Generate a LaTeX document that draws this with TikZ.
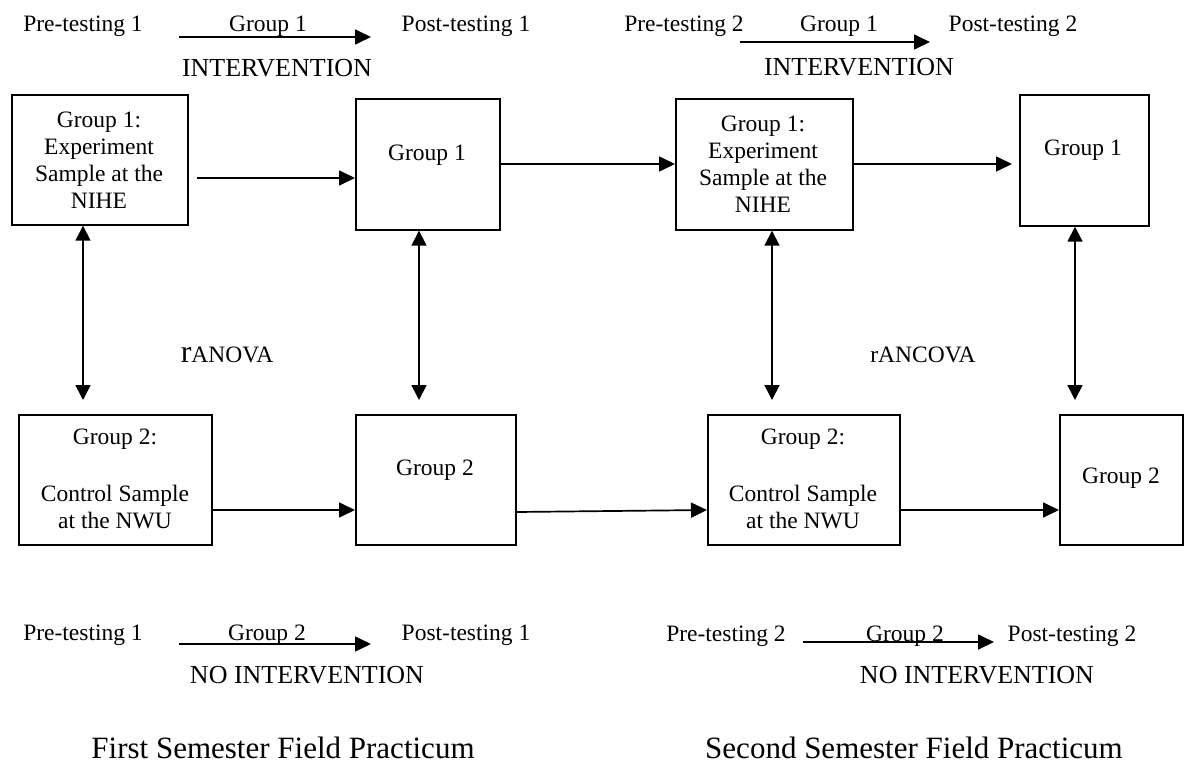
\documentclass[tikz,border=0pt]{standalone}
\usepackage{fontspec}
\setmainfont{Liberation Serif}
\usetikzlibrary{arrows.meta,calc}
\newcommand\mfont{\fontsize{23.5}{27}\selectfont}
\newcommand\capfont{\fontsize{26}{30}\selectfont}
\newcommand\titfont{\fontsize{31}{36}\selectfont}
\begin{document}
\begin{tikzpicture}[x=1pt,y=-1pt,
  box/.style={draw,line width=1.7pt,inner sep=0pt,anchor=north west},
  txt/.style={inner sep=0pt,font=\mfont},
  captxt/.style={inner sep=0pt,font=\capfont,anchor=base},
  tit/.style={inner sep=0pt,font=\titfont,anchor=base},
  arr/.style={line width=1.7pt,-{Triangle[length=16pt,width=15pt]}},
  darr/.style={line width=1.7pt,{Triangle[length=15pt,width=15pt]}-{Triangle[length=15pt,width=15pt]}}]
\useasboundingbox (0,0) rectangle (1185,776);

% boxes
\node[box,minimum width=176pt,minimum height=130pt] (A) at (11,94) {};
\node[box,minimum width=144pt,minimum height=131pt] (B) at (355,98) {};
\node[box,minimum width=177pt,minimum height=131pt] (C) at (675,98) {};
\node[box,minimum width=129pt,minimum height=131pt] (D) at (1019,94) {};
\node[box,minimum width=193pt,minimum height=130pt] (E) at (18,414) {};
\node[box,minimum width=160pt,minimum height=130pt] (F) at (355,414) {};
\node[box,minimum width=192pt,minimum height=130pt] (G) at (707,414) {};
\node[box,minimum width=123pt,minimum height=130pt] (H) at (1059,414) {};

% box texts
\node[txt,anchor=north,align=center] (At) at (99,112) {Group 1:\\Experiment\\Sample at the\\NIHE};
\node[txt,anchor=base] (Bt) at (427,160) {Group 1};
\node[txt,anchor=north,align=center] (Ct) at (763,116) {Group 1:\\Experiment\\Sample at the\\NIHE};
\node[txt,anchor=base] (Dt) at (1083,155) {Group 1};
\node[txt,anchor=north,align=center] (Et) at (115,429) {Group 2:\\[30pt]Control Sample\\at the NWU};
\node[txt,anchor=base] (Ft) at (435,475) {Group 2};
\node[txt,anchor=north,align=center] (Gt) at (803,429) {Group 2:\\[30pt]Control Sample\\at the NWU};
\node[txt,anchor=base] (Ht) at (1121,483) {Group 2};

% horizontal connectors
\coordinate (yA) at (0,178);
\coordinate (yB) at (0,164);
\coordinate (yE) at (0,510);
\coordinate (yF) at (0,512);
\draw[arr] ($(A.east |- yA)+(8,0)$) -- (B.west |- yA);
\draw[arr] (B.east |- yB) -- (C.west |- yB);
\draw[arr] (C.east |- yB) -- ($(D.west |- yB)+(-7,0)$);
\draw[arr] (E.east |- yE) -- (F.west |- yE);
\draw[arr] (F.east |- yF) -- (G.west |- yE);
\draw[arr] (G.east |- yE) -- (H.west |- yE);

% vertical double arrows
\coordinate (vA) at (83,400);
\coordinate (vB) at (419,400);
\coordinate (vC) at (772,400);
\coordinate (vD) at (1075,400);
\draw[darr] (A.south -| vA) -- (vA);
\draw[darr] (B.south -| vB) -- (vB);
\draw[darr] (C.south -| vC) -- (vC);
\draw[darr] (D.south -| vD) -- (vD);

\node[txt,anchor=base] (ranova) at (227,362) {{\fontsize{32}{32}\selectfont r}ANOVA};
\node[txt,anchor=base] (rancova) at (923,362) {rANCOVA};

% top flow
\node[txt,anchor=base] (pre1) at (83,32) {Pre-testing 1};
\node[txt,anchor=base] (g1a) at (268,32) {Group 1};
\node[txt,anchor=base] (post1) at (466,32) {Post-testing 1};
\coordinate (ta1) at (179,37);
\coordinate (ta2) at (371,37);
\draw[arr] (ta1) -- (ta2);
\node[captxt] (int1) at (277,77) {INTERVENTION};

\node[txt,anchor=base] (pre2) at (684,32) {Pre-testing 2};
\node[txt,anchor=base] (g1b) at (839,32) {Group 1};
\node[txt,anchor=base] (post2) at (1013,32) {Post-testing 2};
\coordinate (tb1) at (740,42);
\coordinate (tb2) at (930,42);
\draw[arr] (tb1) -- (tb2);
\node[captxt] (int2) at (859,75) {INTERVENTION};

% bottom flow
\node[txt,anchor=base] (pre1b) at (83,640) {Pre-testing 1};
\node[txt,anchor=base] (g2a) at (267,640) {Group 2};
\node[txt,anchor=base] (post1b) at (466,640) {Post-testing 1};
\coordinate (ba1) at (179,644);
\coordinate (ba2) at (371,644);
\draw[arr] (ba1) -- (ba2);
\node[captxt] (noint1) at (307,683) {NO INTERVENTION};

\node[txt,anchor=base] (pre2b) at (726,641) {Pre-testing 2};
\node[txt,anchor=base] (g2b) at (905,641) {Group 2};
\node[txt,anchor=base] (post2b) at (1072,641) {Post-testing 2};
\coordinate (bb1) at (803,642);
\coordinate (bb2) at (994,642);
\draw[arr] (bb1) -- (bb2);
\node[captxt] (noint2) at (977,683) {NO INTERVENTION};

% titles
\node[tit] (title1) at (283,758) {First Semester Field Practicum};
\node[tit] (title2) at (914,758) {Second Semester Field Practicum};
\end{tikzpicture}
\end{document}
